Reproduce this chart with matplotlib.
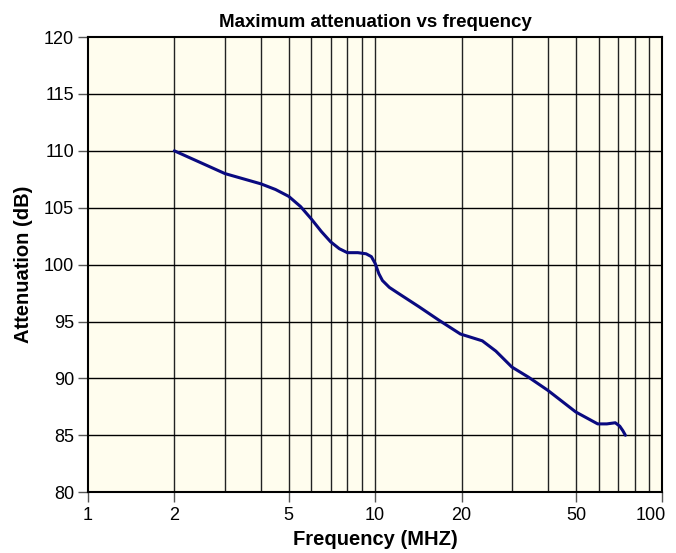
import matplotlib
matplotlib.use("Agg")
import matplotlib.pyplot as plt
from matplotlib.ticker import FixedLocator, NullFormatter, NullLocator
from matplotlib.transforms import ScaledTranslation

# frequency (MHz) and attenuation (dB)
freq = [2.0, 2.5, 3.0, 4.0, 4.5, 5.0, 5.5, 6.0, 6.5, 7.0, 7.5, 8.0, 8.7,
        9.3, 9.7, 10.0, 10.3, 10.6, 11.2, 12.0, 14.2, 16.7, 19.8, 23.6,
        26.3, 29.9, 34.2, 39.9, 49.9, 59.5, 64.0, 68.5, 71.0, 72.8, 74.3]
atten = [110.0, 108.9, 108.0, 107.1, 106.6, 106.0, 105.1, 104.0, 102.9,
         102.0, 101.4, 101.05, 101.05, 100.95, 100.7, 100.1, 99.2, 98.6,
         98.0, 97.5, 96.3, 95.1, 93.9, 93.3, 92.4, 91.0, 90.1, 88.95,
         87.05, 86.0, 86.0, 86.1, 85.8, 85.4, 85.0]

x_ticks = [1, 2, 5, 10, 20, 50, 100]
x_grid = [2, 3, 4, 5, 6, 7, 8, 9, 10, 20, 30, 40, 50, 60, 70, 80, 90]
y_ticks = list(range(80, 121, 5))

plt.rcParams['font.family'] = ['Liberation Sans', 'DejaVu Sans']

fig = plt.figure(figsize=(6.76, 5.53), dpi=100)
ax = fig.add_axes([0.130, 0.110, 0.850, 0.823])
ax.set_facecolor('#fffdee')

ax.set_xscale('log')
ax.set_xlim(1, 100)
ax.set_ylim(80, 120)

# grid lines drawn by hand so minor and major look the same
for g in x_grid:
    ax.axvline(g, color='#222222', lw=1.0, zorder=1)
for g in y_ticks[1:-1]:
    ax.axhline(g, color='black', lw=1.0, zorder=1)

ax.plot(freq, atten, color='#0a0a80', lw=2.2, zorder=3,
        solid_joinstyle='round', solid_capstyle='round')

ax.xaxis.set_major_locator(FixedLocator(x_ticks))
ax.xaxis.set_minor_locator(NullLocator())
ax.xaxis.set_minor_formatter(NullFormatter())
ax.set_xticklabels([str(t) for t in x_ticks])
ax.set_yticks(y_ticks)

ax.tick_params(axis='both', direction='out', length=7, width=1,
               labelsize=13, color='#555555')
ax.tick_params(axis='x', pad=4)
ax.tick_params(axis='y', pad=3)

# last x label sits left of its tick, as in the reference
last = ax.get_xticklabels()[-1]
last.set_transform(last.get_transform()
                   + ScaledTranslation(-0.12, 0, fig.dpi_scale_trans))

for s in ax.spines.values():
    s.set_linewidth(1.5)
    s.set_color('black')

ax.set_title('Maximum attenuation vs frequency', fontsize=13.5,
             fontweight='bold', pad=7)
ax.set_xlabel('Frequency (MHZ)', fontsize=14.5, fontweight='bold', labelpad=4)
ax.set_ylabel('Attenuation (dB)', fontsize=14.5, fontweight='bold', labelpad=8)

fig.savefig('out.png', dpi=100)
